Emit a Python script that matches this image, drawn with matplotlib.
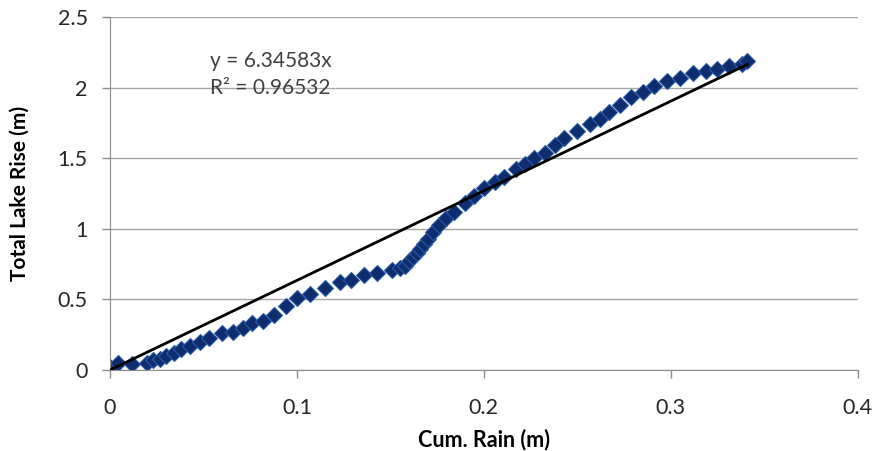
import numpy as np
import matplotlib.pyplot as plt

plt.rcParams['font.family'] = ['Lato', 'DejaVu Sans']

# cumulative rain (m) and total lake rise (m)
cum_rain = [0.000, 0.004, 0.012, 0.020, 0.023, 0.027, 0.030, 0.034, 0.038, 0.043,
            0.048, 0.053, 0.060, 0.066, 0.071, 0.076, 0.082, 0.088, 0.094, 0.100,
            0.107, 0.115, 0.123, 0.129, 0.136, 0.143, 0.151, 0.155, 0.158, 0.160,
            0.162, 0.164, 0.166, 0.168, 0.170, 0.173, 0.176, 0.180, 0.184, 0.190,
            0.195, 0.200, 0.206, 0.211, 0.217, 0.222, 0.227, 0.233, 0.238, 0.243,
            0.250, 0.257, 0.262, 0.267, 0.273, 0.279, 0.285, 0.291, 0.298, 0.305,
            0.312, 0.319, 0.325, 0.331, 0.338, 0.341]
lake_rise = [0.02, 0.05, 0.04, 0.05, 0.07, 0.08, 0.10, 0.12, 0.15, 0.17,
             0.20, 0.23, 0.26, 0.27, 0.30, 0.33, 0.35, 0.39, 0.45, 0.51,
             0.54, 0.58, 0.62, 0.64, 0.67, 0.69, 0.71, 0.72, 0.74, 0.77,
             0.80, 0.83, 0.86, 0.89, 0.93, 0.98, 1.03, 1.08, 1.12, 1.18,
             1.23, 1.29, 1.33, 1.37, 1.42, 1.46, 1.50, 1.54, 1.59, 1.64,
             1.69, 1.74, 1.78, 1.83, 1.88, 1.93, 1.97, 2.01, 2.05, 2.07,
             2.10, 2.12, 2.13, 2.15, 2.17, 2.19]
slope = 6.34583
r_squared = 0.96532

fig = plt.figure(figsize=(8.76, 4.51), dpi=100)
ax = fig.add_axes([0.1256, 0.1796, 0.8534, 0.7827])

ax.plot(cum_rain, lake_rise, linestyle='none', marker='D', markersize=8.5,
        markerfacecolor='#0e2d6e', markeredgecolor='#2b5aa6', markeredgewidth=0.8,
        zorder=2)

# linear trendline through the origin
fit_x = np.array([0, max(cum_rain)])
ax.plot(fit_x, slope * fit_x, color='black', linewidth=2, zorder=3)

ax.text(0.0535, 2.19, f'y = {slope}x', fontsize=15, color='#404040', va='center')
ax.text(0.0535, 2.00, f'R² = {r_squared}', fontsize=15, color='#404040', va='center')

ax.set_xlim(0, 0.4)
ax.set_ylim(0, 2.5)
ax.set_xticks([0, 0.1, 0.2, 0.3, 0.4])
ax.set_xticklabels(['0', '0.1', '0.2', '0.3', '0.4'])
ax.set_yticks([0, 0.5, 1, 1.5, 2, 2.5])
ax.set_yticklabels(['0', '0.5', '1', '1.5', '2', '2.5'])

ax.grid(axis='y', color='#a6a6a6', linewidth=1)
ax.set_axisbelow(True)
for side in ['top', 'right']:
    ax.spines[side].set_visible(False)
for side in ['left', 'bottom']:
    ax.spines[side].set_color('#8c8c8c')
ax.tick_params(axis='both', colors='#8c8c8c', labelcolor='#262626', labelsize=15.5,
               length=6, width=1)
ax.tick_params(axis='x', pad=14)
ax.tick_params(axis='y', pad=10)

ax.set_xlabel('Cum. Rain (m)', fontsize=15.5, fontweight='bold', labelpad=8)
ax.set_ylabel('Total Lake Rise (m)', fontsize=15, fontweight='bold', labelpad=20)

fig.savefig('out.png', dpi=100)
